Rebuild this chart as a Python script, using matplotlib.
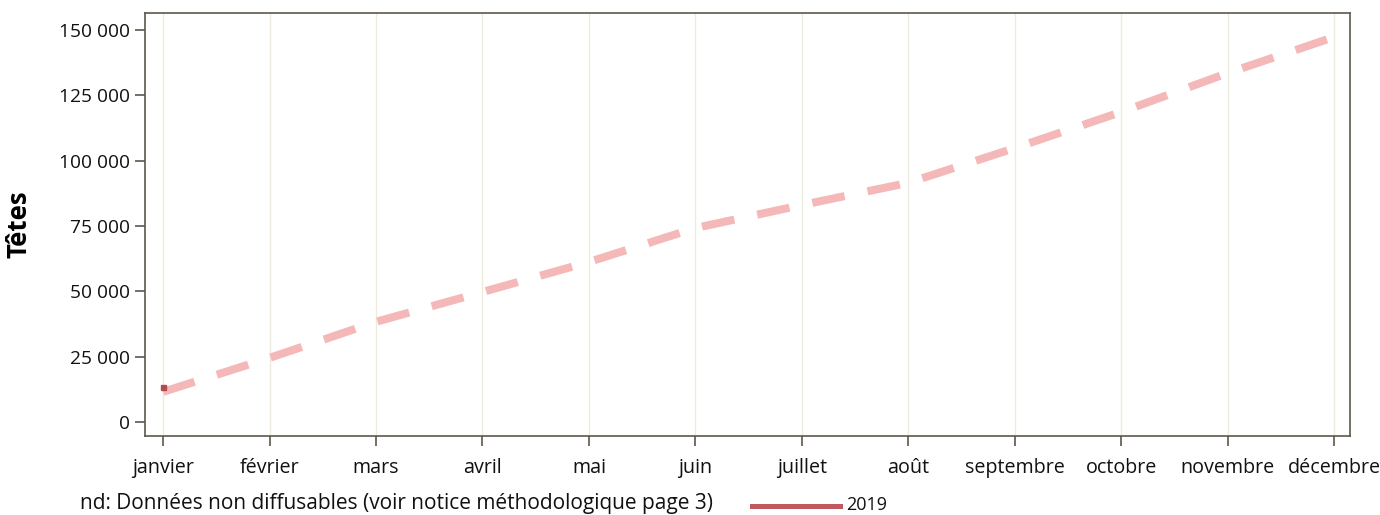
import matplotlib
matplotlib.use("Agg")
import matplotlib.pyplot as plt
from matplotlib.ticker import FuncFormatter

plt.rcParams['font.family'] = ['Open Sans', 'DejaVu Sans']

mois = ['janvier', 'février', 'mars', 'avril', 'mai', 'juin', 'juillet',
        'août', 'septembre', 'octobre', 'novembre', 'décembre']
# cumulative reference curve (dashed pink)
reference = [11500, 24500, 38300, 49700, 61200, 74200, 83000, 91500,
             104800, 118600, 133500, 147300]
# 2019 series, only january available
serie_2019 = [13300]

fig = plt.figure(figsize=(13.8, 5.15), dpi=100)
ax = fig.add_axes([145 / 1380, 1 - 436 / 515, 1205 / 1380, 423 / 515])

x = list(range(len(mois)))
ax.plot(x, reference, color='#f4b8b8', lw=5.8, dashes=(4.1, 2.9))
ax.plot(x[:len(serie_2019)], serie_2019, color='#b84a4e', lw=3.5,
        marker='s', ms=3.6, ls='-')

ax.set_xlim(-0.17, 11.15)
ax.set_ylim(-5400, 156500)
ax.set_xticks(x)
ax.set_xticklabels(mois)
ax.set_yticks([0, 25000, 50000, 75000, 100000, 125000, 150000])
ax.yaxis.set_major_formatter(FuncFormatter(lambda v, p: f"{int(v):,}".replace(",", " ")))
ax.xaxis.grid(True, color='#eeebdc', lw=1)
ax.set_axisbelow(True)

for s in ax.spines.values():
    s.set_color('#5e584c')
    s.set_linewidth(1.2)
ax.tick_params(axis='both', colors='#5e584c', labelcolor='#111111',
               length=7, width=1.2, direction='out')
ax.tick_params(axis='y', labelsize=13.8)
ax.tick_params(axis='x', labelsize=14.2, pad=9)

ax.set_ylabel('Têtes', fontsize=18.5, fontweight='bold')
ax.yaxis.set_label_coords(-0.093, 0.5)

fig.text(80 / 1380, 1 - 503 / 515, 'nd: Données non diffusables (voir notice méthodologique page 3)',
         fontsize=15, va='center', ha='left', color='#111111')
fig.add_artist(plt.Line2D([752 / 1380, 840 / 1380], [1 - 506 / 515, 1 - 506 / 515],
                          color='#c0595e', lw=3.6, transform=fig.transFigure))
fig.text(846 / 1380, 1 - 505 / 515, '2019', fontsize=13, va='center', ha='left', color='#111111')

fig.savefig('out.png', dpi=100)
